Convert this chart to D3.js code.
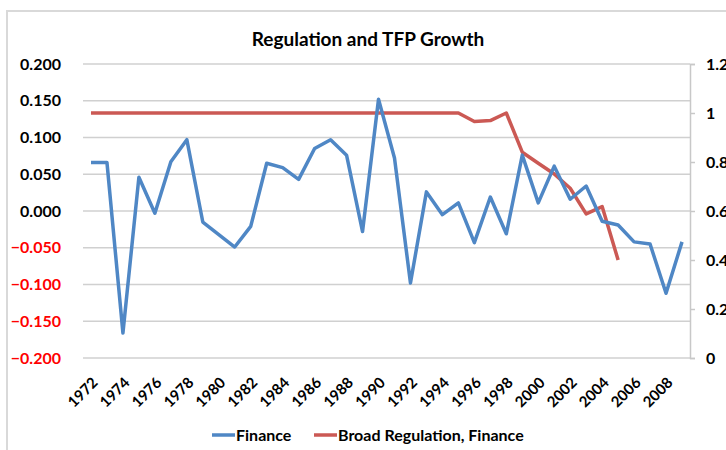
<!DOCTYPE html>
<html>
<head>
<meta charset="utf-8">
<script src="https://cdn.jsdelivr.net/npm/d3@7"></script>
<style>
  body { margin: 0; background: #fff; }
  svg { display: block; font-family: Lato, "Open Sans", sans-serif; }
</style>
</head>
<body>
<svg id="chart"></svg>
<script>
// categories
const years = [1972, 1973, 1974, 1975, 1976, 1977, 1978, 1979, 1980, 1981,
  1982, 1983, 1984, 1985, 1986, 1987, 1988, 1989, 1990, 1991,
  1992, 1993, 1994, 1995, 1996, 1997, 1998, 1999, 2000, 2001,
  2002, 2003, 2004, 2005, 2006, 2007, 2008, 2009];

// TFP growth, finance (left axis)
const finance = [0.066, 0.066, -0.166, 0.046, -0.003, 0.067, 0.097, -0.015, -0.032, -0.049,
  -0.021, 0.065, 0.059, 0.043, 0.085, 0.097, 0.076, -0.028, 0.152, 0.072,
  -0.098, 0.026, -0.005, 0.011, -0.043, 0.019, -0.031, 0.076, 0.011, 0.061,
  0.016, 0.034, -0.014, -0.019, -0.042, -0.045, -0.112, -0.042];

// broad regulation index, finance (right axis), 1972-2005
const regulation = [1, 1, 1, 1, 1, 1, 1, 1, 1, 1,
  1, 1, 1, 1, 1, 1, 1, 1, 1, 1,
  1, 1, 1, 1, 0.965, 0.969, 1.0, 0.84, 0.795, 0.751,
  0.693, 0.588, 0.618, 0.40];

const leftTicks = [-0.2, -0.15, -0.1, -0.05, 0, 0.05, 0.1, 0.15, 0.2];
const rightTicks = [0, 0.2, 0.4, 0.6, 0.8, 1, 1.2];
const xLabels = years.filter((d, i) => i % 2 === 0);

const title = "Regulation and TFP Growth";
const seriesNames = ["Finance", "Broad Regulation, Finance"];
const colors = ["#4f87c5", "#cb5954"];

const W = 726, H = 450;
const plot = { left: 83, right: 690, top: 64, bottom: 358 };

const svg = d3.select("#chart").attr("width", W).attr("height", H);

// chart border (only left and top edges are in view)
svg.append("rect").attr("x", 7).attr("y", 11).attr("width", 800).attr("height", 600)
  .attr("fill", "none").attr("stroke", "#d9d9d9").attr("stroke-width", 2);

const x = d3.scaleBand().domain(years).range([plot.left, plot.right]).padding(0);
const cx = d => x(d) + x.bandwidth() / 2;
const yL = d3.scaleLinear().domain([-0.2, 0.2]).range([plot.bottom, plot.top]);
const yR = d3.scaleLinear().domain([0, 1.2]).range([plot.bottom, plot.top]);

// gridlines
svg.append("g").selectAll("line").data(leftTicks).join("line")
  .attr("x1", plot.left).attr("x2", plot.right)
  .attr("y1", d => yL(d)).attr("y2", d => yL(d))
  .attr("stroke", "#d0d0d0").attr("stroke-width", 1.5);

// left axis
const gL = svg.append("g").attr("transform", `translate(${plot.left},0)`)
  .call(d3.axisLeft(yL).tickValues(leftTicks).tickSize(0).tickPadding(22).tickFormat(d3.format(".3f")));
gL.select(".domain").remove();
gL.selectAll("text")
  .attr("font-family", "Lato, sans-serif").attr("font-size", 16).attr("font-weight", "bold")
  .attr("fill", d => d < 0 ? "#ff0000" : "#000");

// right axis
const gR = svg.append("g").attr("transform", `translate(${plot.right},0)`)
  .call(d3.axisRight(yR).tickValues(rightTicks).tickSize(5).tickPadding(11).tickFormat(d => String(d)));
gR.select(".domain").attr("stroke", "#c8c8c8").attr("stroke-width", 1.5);
gR.selectAll(".tick line").attr("stroke", "#c8c8c8").attr("stroke-width", 1.5);
gR.selectAll("text")
  .attr("font-family", "Lato, sans-serif").attr("font-size", 16).attr("font-weight", "bold").attr("fill", "#000");

// x axis labels, rotated
svg.append("g").selectAll("text").data(xLabels).join("text")
  .attr("transform", d => `translate(${cx(d) + 4},${plot.bottom + 22}) rotate(-45)`)
  .attr("text-anchor", "end").attr("dy", "0.35em")
  .attr("font-size", 15).attr("font-weight", "bold").attr("fill", "#000")
  .text(d => d);

// lines
const lineF = d3.line().x((d, i) => cx(years[i])).y(d => yL(d));
const lineR = d3.line().x((d, i) => cx(years[i])).y(d => yR(d));

svg.append("path").datum(regulation).attr("d", lineR)
  .attr("fill", "none").attr("stroke", colors[1]).attr("stroke-width", 3.5).attr("stroke-linejoin", "round");
svg.append("path").datum(finance).attr("d", lineF)
  .attr("fill", "none").attr("stroke", colors[0]).attr("stroke-width", 3.5).attr("stroke-linejoin", "round");

// title
svg.append("text").attr("x", 368).attr("y", 46).attr("text-anchor", "middle")
  .attr("font-size", 19).attr("font-weight", "bold").attr("fill", "#000").text(title);

// legend
const legendX = [212, 314];
const lg = svg.append("g");
seriesNames.forEach((name, i) => {
  lg.append("line").attr("x1", legendX[i]).attr("x2", legendX[i] + 23)
    .attr("y1", 435).attr("y2", 435).attr("stroke", colors[i]).attr("stroke-width", 3.5);
  lg.append("text").attr("x", legendX[i] + 24).attr("y", 435).attr("dy", "0.35em")
    .attr("font-size", 16).attr("font-weight", "bold").attr("fill", "#000").text(name);
});
</script>
</body>
</html>
